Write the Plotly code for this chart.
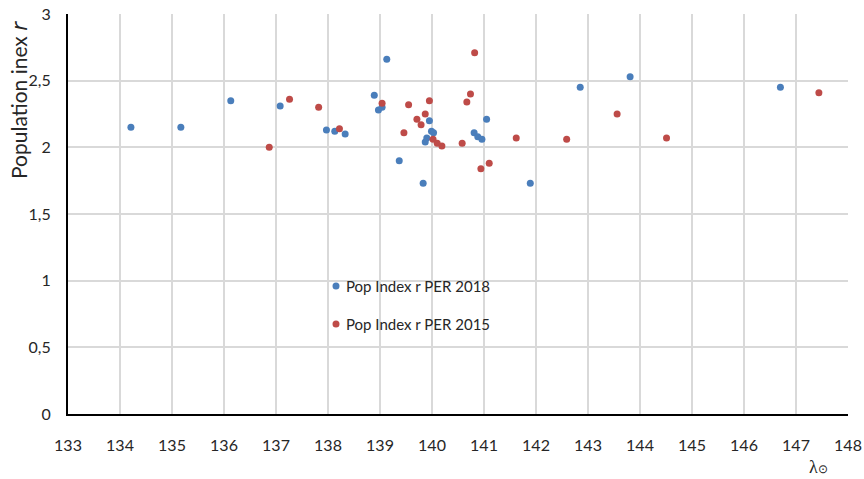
import plotly.graph_objects as go

# Solar longitude (deg) and population index r for the two campaigns
lam_2018 = [134.21, 135.17, 136.13, 137.08, 137.97, 138.13, 138.33, 138.89, 138.97,
            139.04, 139.13, 139.37, 139.83, 139.87, 139.90, 139.95, 139.99, 140.03,
            140.81, 140.88, 140.96, 141.05, 141.89, 142.85, 143.81, 146.70]
r_2018 = [2.15, 2.15, 2.35, 2.31, 2.13, 2.12, 2.10, 2.39, 2.28,
          2.30, 2.66, 1.90, 1.73, 2.04, 2.07, 2.20, 2.12, 2.11,
          2.11, 2.08, 2.06, 2.21, 1.73, 2.45, 2.53, 2.45]

lam_2015 = [136.87, 137.26, 137.82, 138.22, 139.04, 139.46, 139.55, 139.71, 139.79,
            139.87, 139.95, 140.02, 140.10, 140.19, 140.58, 140.67, 140.74, 140.82,
            140.94, 141.10, 141.62, 142.59, 143.56, 144.51, 147.44]
r_2015 = [2.00, 2.36, 2.30, 2.14, 2.33, 2.11, 2.32, 2.21, 2.17,
          2.25, 2.35, 2.06, 2.03, 2.01, 2.03, 2.34, 2.40, 2.71,
          1.84, 1.88, 2.07, 2.06, 2.25, 2.07, 2.41]

series_names = ["Pop Index r PER 2018", "Pop Index r PER 2015"]
series_colors = ["#4A7EBB", "#BE4B48"]

x_ticks = list(range(133, 149))
y_ticks = [0, 0.5, 1, 1.5, 2, 2.5, 3]

FONT = "Lato"
TEXT = "#262626"

# Figure size and plot-area margins (pixels)
W, H = 864, 479
L, R, T, B = 68, 16, 14, 65
pw, ph = W - L - R, H - T - B


def px_x(x):
    return (x - L) / pw


def px_y(y):
    return (H - B - y) / ph


fig = go.Figure()
for xs, ys, name, color in [(lam_2018, r_2018, series_names[0], series_colors[0]),
                            (lam_2015, r_2015, series_names[1], series_colors[1])]:
    fig.add_trace(go.Scatter(x=xs, y=ys, mode="markers", name=name,
                             marker=dict(size=7, color=color, line=dict(width=0)),
                             showlegend=False))

# In-plot legend: marker dots plus labels
for yy, name, color in zip([286, 324], series_names, series_colors):
    fig.add_shape(type="circle", xref="paper", yref="paper",
                  xsizemode="pixel", ysizemode="pixel",
                  xanchor=px_x(336), yanchor=px_y(yy),
                  x0=-3.5, x1=3.5, y0=-3.5, y1=3.5,
                  fillcolor=color, line=dict(width=0))
    fig.add_annotation(x=px_x(344), y=px_y(yy), xref="paper", yref="paper",
                       text=name, showarrow=False, xanchor="left", yanchor="middle",
                       font=dict(family=FONT, size=15, color=TEXT))

# Axis titles
fig.add_annotation(x=px_x(19), y=px_y(100), xref="paper", yref="paper",
                   text="Population inex <span style='font-family:DejaVu Sans'><i>r</i></span>",
                   showarrow=False, textangle=-90,
                   xanchor="center", yanchor="middle",
                   font=dict(family=FONT, size=21, color=TEXT))
fig.add_annotation(x=px_x(818), y=px_y(467), xref="paper", yref="paper",
                   text="λ<span style='font-size:12px'>⊙</span>", showarrow=False,
                   xanchor="center", yanchor="middle",
                   font=dict(family="Liberation Serif", size=18, color=TEXT))

fig.update_layout(
    width=W, height=H,
    margin=dict(l=L, r=R, t=T, b=B, pad=0, autoexpand=False),
    plot_bgcolor="white", paper_bgcolor="white",
    separators=", ",
    showlegend=False,
    font=dict(family=FONT, size=15, color=TEXT),
    xaxis=dict(range=[133, 148], tickvals=x_ticks, showgrid=True, gridcolor="#D9D9D9",
               gridwidth=2, zeroline=False, showline=True, linecolor="black", linewidth=2,
               ticks="", ticklabelstandoff=16, tickfont=dict(size=16), automargin=False),
    yaxis=dict(range=[0, 3], tickvals=y_ticks, showgrid=True, gridcolor="#D9D9D9",
               gridwidth=2, zeroline=False, showline=True, linecolor="black", linewidth=2,
               ticks="", ticklabelstandoff=12, tickfont=dict(size=16), automargin=False),
)

fig.write_html("out.html")
